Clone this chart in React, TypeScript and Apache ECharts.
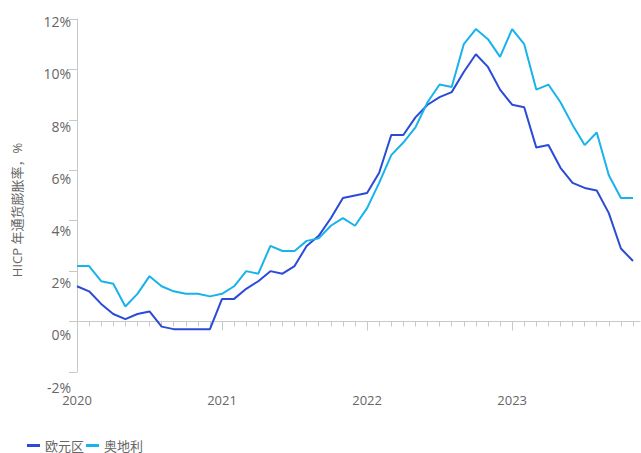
import React, { useEffect, useRef } from "react";
import * as echarts from "echarts";

const months: string[] = [
  "2020-01", "2020-02", "2020-03", "2020-04", "2020-05", "2020-06", "2020-07", "2020-08", "2020-09", "2020-10", "2020-11", "2020-12",
  "2021-01", "2021-02", "2021-03", "2021-04", "2021-05", "2021-06", "2021-07", "2021-08", "2021-09", "2021-10", "2021-11", "2021-12",
  "2022-01", "2022-02", "2022-03", "2022-04", "2022-05", "2022-06", "2022-07", "2022-08", "2022-09", "2022-10", "2022-11", "2022-12",
  "2023-01", "2023-02", "2023-03", "2023-04", "2023-05", "2023-06", "2023-07", "2023-08", "2023-09", "2023-10", "2023-11",
];

const euroArea: number[] = [
  1.4, 1.2, 0.7, 0.3, 0.1, 0.3, 0.4, -0.2, -0.3, -0.3, -0.3, -0.3,
  0.9, 0.9, 1.3, 1.6, 2.0, 1.9, 2.2, 3.0, 3.4, 4.1, 4.9, 5.0,
  5.1, 5.9, 7.4, 7.4, 8.1, 8.6, 8.9, 9.1, 9.9, 10.6, 10.1, 9.2,
  8.6, 8.5, 6.9, 7.0, 6.1, 5.5, 5.3, 5.2, 4.3, 2.9, 2.4,
];

const austria: number[] = [
  2.2, 2.2, 1.6, 1.5, 0.6, 1.1, 1.8, 1.4, 1.2, 1.1, 1.1, 1.0,
  1.1, 1.4, 2.0, 1.9, 3.0, 2.8, 2.8, 3.2, 3.3, 3.8, 4.1, 3.8,
  4.5, 5.5, 6.6, 7.1, 7.7, 8.7, 9.4, 9.3, 11.0, 11.6, 11.2, 10.5,
  11.6, 11.0, 9.2, 9.4, 8.7, 7.8, 7.0, 7.5, 5.8, 4.9, 4.9,
];

const seriesNames = ["欧元区", "奥地利"];
const yAxisTitle = "HICP 年通货膨胀率，%";

const DARK = "#2a4ad8";
const CYAN = "#17b3ea";
const AXIS = "#c8c8c8";
const TEXT = "#666666";
const FONT = "'Open Sans', 'Noto Sans CJK SC', sans-serif";

export default function App() {
  const ref = useRef<HTMLDivElement>(null);

  useEffect(() => {
    document.body.style.margin = "0";
    if (!ref.current) return;
    const chart = echarts.init(ref.current, undefined, { renderer: "svg" });
    chart.setOption({
      animation: false,
      backgroundColor: "#ffffff",
      textStyle: { fontFamily: FONT },
      grid: [
        // 0: data
        { left: 77, right: 8, top: 19, bottom: 81 },
        // 1: y tick labels
        { left: 77, right: 8, top: 21.7, bottom: 66 },
        // 2: x ticks along the zero line
        { left: 77, right: 8, top: 19, bottom: 131.5 },
        // 3: zero line running to the right edge
        { left: 77, right: 1, top: 19, bottom: 131.5 },
      ],
      legend: {
        left: 27,
        top: 439,
        padding: 0,
        itemGap: 2,
        itemWidth: 13,
        itemHeight: 3,
        icon: "rect",
        textStyle: { color: TEXT, fontSize: 13, fontFamily: FONT },
        data: seriesNames,
      },
      xAxis: [
        {
          type: "category",
          gridIndex: 0,
          data: months,
          boundaryGap: false,
          show: false,
        },
        {
          type: "value",
          gridIndex: 1,
          show: false,
        },
        {
          type: "category",
          gridIndex: 2,
          data: months,
          boundaryGap: false,
          position: "bottom",
          axisLine: { show: false, onZero: false },
          axisTick: { show: true, interval: 0, length: 5, lineStyle: { color: AXIS } },
          axisLabel: { show: false },
          splitLine: { show: false },
        },
        {
          type: "category",
          gridIndex: 2,
          data: months,
          boundaryGap: false,
          position: "bottom",
          axisLine: { show: false, onZero: false },
          axisTick: { show: true, interval: 11, length: 9, lineStyle: { color: AXIS } },
          axisLabel: {
            show: true,
            interval: 11,
            margin: 72,
            color: TEXT,
            fontSize: 13,
            fontFamily: FONT,
            formatter: (v: string) => v.slice(0, 4),
          },
          splitLine: { show: false },
        },
        {
          type: "value",
          gridIndex: 3,
          min: 0,
          max: 1,
          position: "bottom",
          axisLine: { show: true, onZero: false, lineStyle: { color: AXIS, width: 1 } },
          axisTick: { show: false },
          axisLabel: { show: false },
          splitLine: { show: false },
        },
      ],
      yAxis: [
        {
          type: "value",
          gridIndex: 0,
          min: -2,
          max: 12,
          interval: 2,
          axisLine: { show: true, lineStyle: { color: AXIS, width: 1 } },
          axisTick: { show: true, length: 8, lineStyle: { color: AXIS } },
          axisLabel: { show: false },
          splitLine: { show: false },
        },
        {
          type: "value",
          gridIndex: 1,
          min: -2,
          max: 12,
          interval: 2,
          axisLine: { show: false },
          axisTick: { show: false },
          axisLabel: {
            show: true,
            margin: 6,
            color: TEXT,
            fontSize: 14,
            fontFamily: FONT,
            formatter: "{value}%",
          },
          splitLine: { show: false },
        },
        { type: "value", gridIndex: 2, show: false },
        { type: "value", gridIndex: 3, show: false },
      ],
      graphic: [
        {
          type: "text",
          x: 17,
          y: 210,
          rotation: Math.PI / 2,
          style: {
            text: yAxisTitle,
            fill: TEXT,
            fontSize: 13,
            fontFamily: FONT,
            align: "center",
            verticalAlign: "middle",
          },
        },
      ],
      series: [
        {
          name: seriesNames[0],
          type: "line",
          xAxisIndex: 0,
          yAxisIndex: 0,
          data: euroArea,
          showSymbol: false,
          symbol: "none",
          lineStyle: { color: DARK, width: 2 },
          itemStyle: { color: DARK },
        },
        {
          name: seriesNames[1],
          type: "line",
          xAxisIndex: 0,
          yAxisIndex: 0,
          data: austria,
          showSymbol: false,
          symbol: "none",
          lineStyle: { color: CYAN, width: 2 },
          itemStyle: { color: CYAN },
        },
      ],
    });
    return () => chart.dispose();
  }, []);

  return <div ref={ref} style={{ width: 641, height: 453 }} />;
}
